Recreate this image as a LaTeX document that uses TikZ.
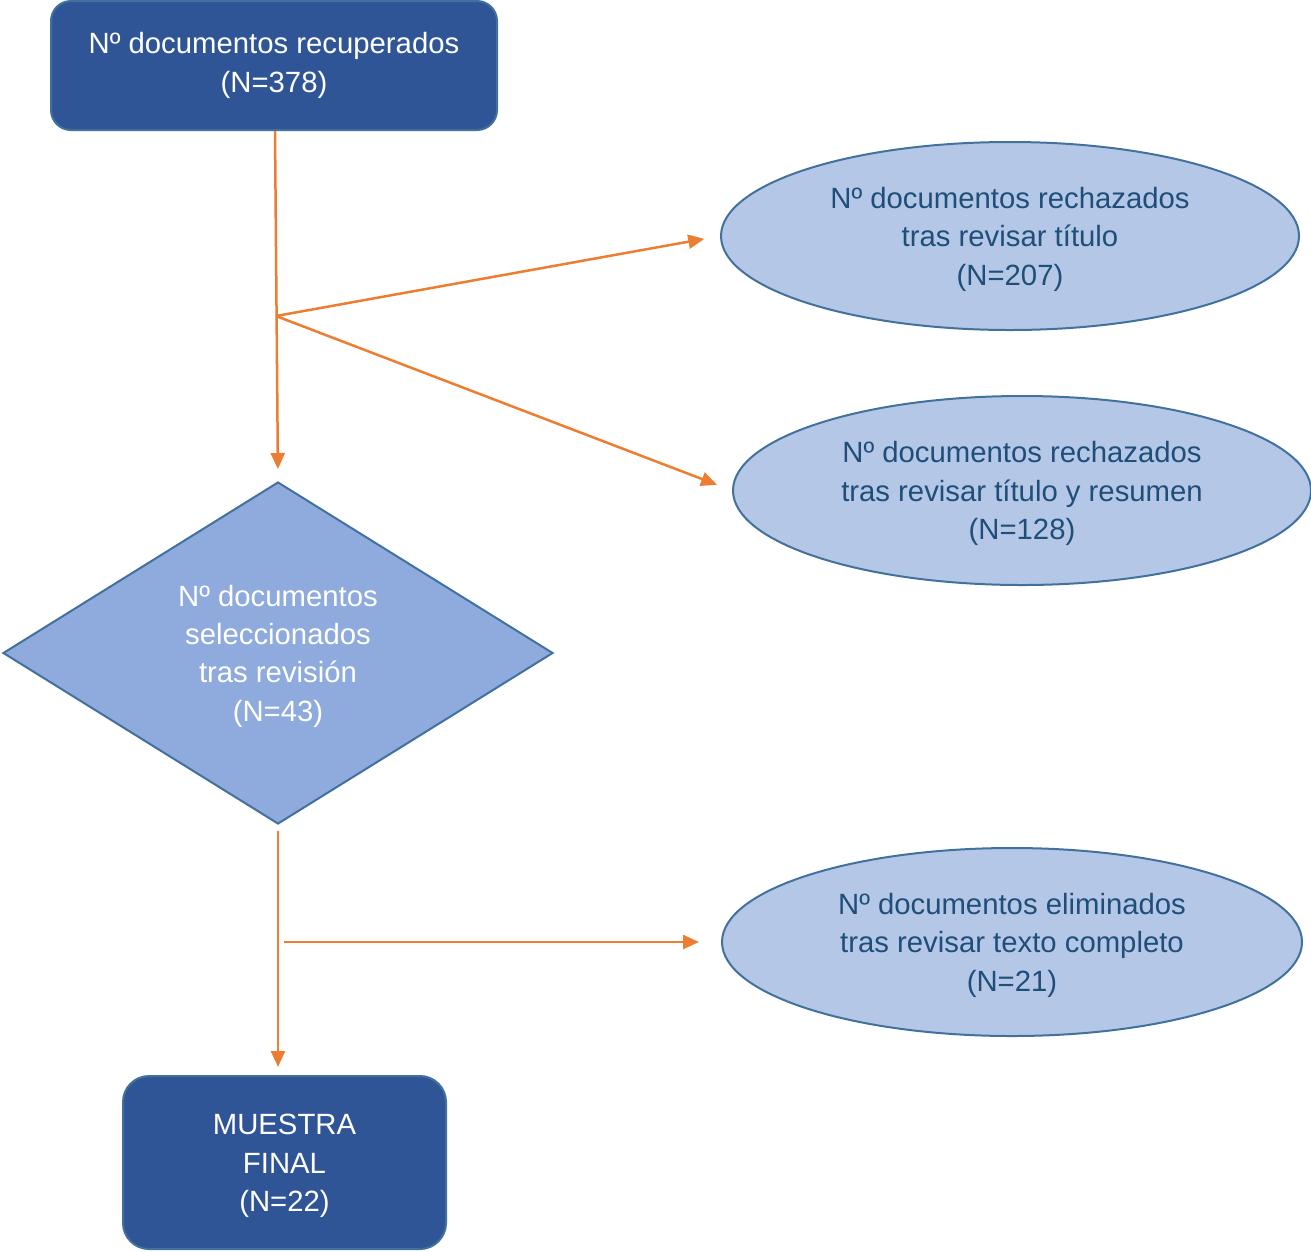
\documentclass[tikz,border=0pt]{standalone}
\usepackage{fontspec}
\setmainfont{Liberation Sans}
\usetikzlibrary{shapes.geometric,arrows.meta}
\definecolor{darkbox}{HTML}{2F5597}
\definecolor{edgeblue}{HTML}{41719C}
\definecolor{diafill}{HTML}{8FAADC}
\definecolor{ellfill}{HTML}{B4C7E7}
\definecolor{elltext}{HTML}{1F4E79}
\definecolor{arrorange}{HTML}{ED7D31}
\newcommand{\dnstrut}{\rule{0pt}{27.5pt}}
\begin{document}
\begin{tikzpicture}[x=1pt,y=-1pt,
  txt/.style={font=\fontsize{29.3}{38.3}\selectfont, align=center, inner sep=0pt},
  darkrect/.style={txt, rectangle, rounded corners=20pt, draw=edgeblue, fill=darkbox, text=white, line width=2pt},
  diabox/.style={txt, diamond, draw=edgeblue, fill=diafill, text=white, line width=2pt, shape aspect=1.6},
  ellbox/.style={txt, ellipse, draw=edgeblue, fill=ellfill, text=elltext, line width=2pt},
  flow/.style={draw=arrorange, line width=2.5pt, -{Triangle[length=16pt,width=14pt]}}
]
\useasboundingbox (0,0) rectangle (1311,1251);

\node[darkrect, minimum width=446pt, minimum height=129pt] (top) at (274,65.5)
  {Nº documentos recuperados\\(N=378)};
\node[diabox, minimum width=550pt, minimum height=342pt] (dia) at (278,653)
  {\dnstrut Nº documentos\\seleccionados\\tras revisión\\(N=43)};
\node[darkrect, rounded corners=26pt, minimum width=323pt, minimum height=173pt] (bot) at (284.5,1162.5)
  {\dnstrut MUESTRA\\FINAL\\(N=22)};
\node[ellbox, minimum width=578pt, minimum height=188pt] (e1) at (1010,236)
  {\dnstrut Nº documentos rechazados\\tras revisar título\\(N=207)};
\node[ellbox, minimum width=578pt, minimum height=189pt] (e2) at (1022,490.5)
  {\dnstrut Nº documentos rechazados\\tras revisar título y resumen\\(N=128)};
\node[ellbox, minimum width=580pt, minimum height=188pt] (e3) at (1012,942)
  {\dnstrut Nº documentos eliminados\\tras revisar texto completo\\(N=21)};

\coordinate (b1) at (276,316);
\coordinate (b2) at (284,942);

\draw[flow, shorten >=12pt] ([xshift=1pt]top.south) -- (dia.north);
\draw[flow, shorten >=16pt] (b1) -- (e1.west);
\draw[flow, shorten >=16pt] (b1) -- (e2.west);
\draw[flow, shorten <=6pt, shorten >=8pt] (dia.south) -- (dia.south |- bot.north);
\draw[flow, shorten >=22pt] (b2) -- (e3.west);
\end{tikzpicture}
\end{document}
